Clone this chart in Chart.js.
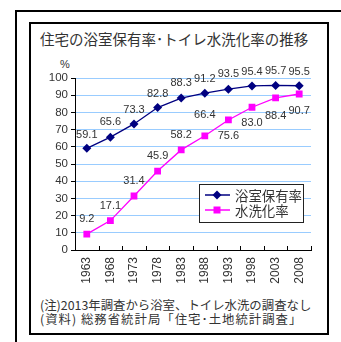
<!DOCTYPE html>
<html><head><meta charset="utf-8">
<script src="https://cdn.jsdelivr.net/npm/chart.js@4/dist/chart.umd.min.js"></script>
<style>
html,body{margin:0;padding:0;background:#fff;width:341px;height:342px;overflow:hidden;position:relative;}
.abs{position:absolute;}
#outer{left:15px;top:10px;width:400px;height:400px;border-left:2px solid #000;border-top:2px solid #000;}
#inner{left:29px;top:22px;width:300px;height:313px;border:2px solid #000;box-sizing:border-box;background:#fff;}
.jp{font-family:"Noto Sans CJK JP",sans-serif;color:#333;white-space:nowrap;line-height:1;}
#title{left:40px;top:32px;font-size:14.5px;}
#pct{left:60px;top:59px;font:11px "Liberation Sans",Arial,sans-serif;color:#333;line-height:1;}
#note1{left:40px;top:299px;font-size:12.4px;}
#note2{left:40px;top:313px;font-size:12.4px;letter-spacing:1px;}
canvas{position:absolute;left:0;top:0;}
</style></head>
<body>
<div id="outer" class="abs"></div>
<div id="inner" class="abs"></div>
<div id="title" class="abs jp">住宅の浴室保有率･トイレ水洗化率の推移</div>
<div id="pct" class="abs">%</div>
<div id="note1" class="abs jp">(注)2013年調査から浴室、トイレ水洗の調査なし</div>
<div id="note2" class="abs jp">(資料) 総務省統計局「住宅･土地統計調査」</div>
<canvas id="c" width="341" height="342"></canvas>
<script>
const years = ["1963","1968","1973","1978","1983","1988","1993","1998","2003","2008"];
const bathLabel = "浴室保有率";
const bathValues = [59.1,65.6,73.3,82.8,88.3,91.2,93.5,95.4,95.7,95.5];
const toiletLabel = "水洗化率";
const toiletValues = [9.2,17.1,31.4,45.9,58.2,66.4,75.6,83.0,88.4,90.7];
const yTicks = [0,10,20,30,40,50,60,70,80,90,100];

const BLUE = "#000080", PINK = "#FF00FF";

const labelPlugin = {
  id: "labels",
  afterDatasetsDraw(chart) {
    const ctx = chart.ctx;
    const offsets = [
      [-13,-15,-14,-14,-15,-14,-15,-14,-14,-14],
      [-15,-15,-15,-15,-15,-21,16,16,18,17]
    ];
    ctx.save();
    ctx.font = '11px "Liberation Sans", Arial, sans-serif';
    ctx.fillStyle = "#333";
    ctx.textAlign = "center";
    ctx.textBaseline = "middle";
    chart.data.datasets.forEach((ds, di) => {
      const meta = chart.getDatasetMeta(di);
      meta.data.forEach((el, i) => {
        ctx.fillText(ds.data[i].toFixed(1), el.x, el.y + offsets[di][i]);
      });
    });
    // inward x ticks
    const xs = chart.scales.x, ca = chart.chartArea;
    const n = xs.ticks.length, w = (ca.right - ca.left) / n;
    ctx.strokeStyle = "#000"; ctx.lineWidth = 1;
    for (let i = 1; i <= n; i++) {
      const x = Math.round(ca.left + i * w) + 0.5;
      ctx.beginPath(); ctx.moveTo(x, ca.bottom); ctx.lineTo(x, ca.bottom - 4); ctx.stroke();
    }
    // legend
    const bx = ca.right - 112, by = ca.bottom - 66, bw = 104, bh = 38;
    ctx.fillStyle = "#fff";
    ctx.fillRect(bx, by, bw, bh);
    ctx.strokeStyle = "#222";
    ctx.strokeRect(Math.round(bx) + 0.5, Math.round(by) + 0.5, bw, bh);
    chart.data.datasets.forEach((ds, di) => {
      const y = by + 11 + di * 15;
      ctx.strokeStyle = ds.borderColor; ctx.lineWidth = 1.5;
      ctx.beginPath(); ctx.moveTo(bx + 6, y); ctx.lineTo(bx + 31, y); ctx.stroke();
      ctx.fillStyle = ds.borderColor;
      const mx = bx + 18;
      ctx.beginPath();
      if (di === 0) {
        ctx.moveTo(mx, y - 4.5); ctx.lineTo(mx + 4.5, y); ctx.lineTo(mx, y + 4.5); ctx.lineTo(mx - 4.5, y); ctx.closePath();
      } else {
        ctx.rect(mx - 3.5, y - 3.5, 7, 7);
      }
      ctx.fill();
      ctx.fillStyle = "#333";
      ctx.font = '13.4px "Noto Sans CJK JP", sans-serif';
      ctx.textAlign = "left";
      ctx.fillText(ds.label, bx + 36, y + 0.5);
    });
    ctx.restore();
  }
};

new Chart(document.getElementById("c"), {
  type: "line",
  data: {
    labels: years,
    datasets: [
      { label: bathLabel, data: bathValues, borderColor: BLUE, backgroundColor: BLUE,
        borderWidth: 1.3, pointStyle: "rectRot", pointRadius: 4.5, pointBorderWidth: 0, tension: 0 },
      { label: toiletLabel, data: toiletValues, borderColor: PINK, backgroundColor: PINK,
        borderWidth: 1.3, pointStyle: "rect", pointRadius: 4.8, pointBorderWidth: 0, tension: 0 }
    ]
  },
  options: {
    responsive: false,
    devicePixelRatio: 1,
    animation: false,
    layout: { padding: { top: 78, right: 30, left: 0, bottom: 0 } },
    plugins: { legend: { display: false }, tooltip: { enabled: false } },
    scales: {
      x: {
        type: "category",
        offset: true,
        grid: { drawOnChartArea: false, drawTicks: false },
        border: { color: "#000", width: 1 },
        ticks: { minRotation: 90, maxRotation: 90, padding: 7, color: "#333",
                 font: { family: '"Liberation Sans", Arial, sans-serif', size: 12 } },
        afterFit(s) { s.height = 92; }
      },
      y: {
        min: 0, max: 100,
        afterBuildTicks(s) { s.ticks = yTicks.map(v => ({ value: v })); },
        grid: { color: c => (c.tick && c.tick.value === 0) ? "rgba(0,0,0,0)" : "#99CCFF",
                tickColor: "#000", tickLength: 4 },
        border: { color: "#000", width: 1 },
        ticks: { padding: 3, color: "#333",
                 font: { family: '"Liberation Sans", Arial, sans-serif', size: 11.5 } },
        afterFit(s) { s.width = 75; }
      }
    }
  },
  plugins: [labelPlugin]
});
</script>
</body></html>
